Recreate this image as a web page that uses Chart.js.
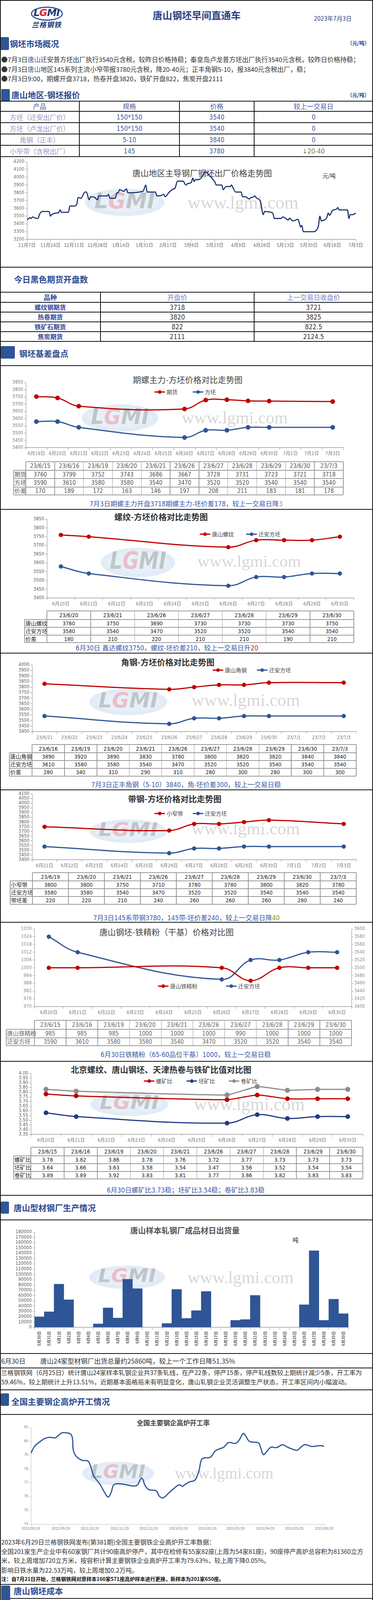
<!DOCTYPE html>
<html lang="zh-CN">
<head>
<meta charset="utf-8">
<title>唐山钢坯早间直通车</title>
<script src="https://cdn.jsdelivr.net/npm/chart.js@4.4.1/dist/chart.umd.min.js"></script>
<style>
  html, body { margin: 0; padding: 0; background: #fff; }
  #page { position: relative; width: 954px; height: 4467px; overflow: hidden;
          font-family: "Noto Sans CJK SC", "Noto Sans", sans-serif; color: #333; }
</style>
</head>
<body>
<div id="page"></div>
<script>
// ---------------- data ----------------
// 唐山地区钢坯报价
const quoteProducts = ['方坯（迁安出厂价）', '方坯（卢龙出厂价）', '角钢（正丰）', '小窄带（含税出厂）'];
const quoteSpecs = ['150*150', '150*150', '5-10', '145'];
const quotePrices = [3540, 3540, 3840, 3780];
const quoteChanges = ['0', '0', '0', '↓20-40'];

// 主导钢厂出厂价走势 (天数从2022-11-07起算)
const trendTicks = ['11月7日', '11月24日', '12月11日', '12月28日', '1月14日', '1月31日', '2月17日', '3月6日',
  '3月23日', '4月9日', '4月26日', '5月13日', '5月30日', '6月16日', '7月3日'];
const trendDay = [0, 2, 3, 4, 6, 8, 9, 11, 16, 17, 18, 21, 23, 24, 25, 30, 31, 34, 36, 37, 39, 42, 43, 45, 46, 49, 51, 52, 58, 59,
  60, 64, 65, 66, 67, 70, 72, 73, 84, 86, 87, 89, 93, 94, 97, 99, 100, 103, 106, 107, 109, 113, 115, 116, 118, 119, 120, 121, 122, 124,
  127, 129, 130, 134, 136, 137, 141, 142, 144, 147, 148, 149, 151, 155, 156, 158, 161, 162, 163, 165, 166, 168, 169, 171, 172, 175, 178, 179, 184, 185,
  187, 189, 190, 191, 192, 194, 196, 197, 198, 199, 200, 207, 210, 211, 212, 213, 216, 217, 218, 219, 221, 224, 225, 226, 232, 233, 234, 236, 238];
const trendPrice = [3450, 3480, 3470, 3490, 3475, 3470, 3520, 3560, 3560, 3500, 3520, 3540, 3545, 3580, 3550, 3550, 3630, 3630, 3650, 3740,
  3730, 3810, 3810, 3710, 3750, 3740, 3710, 3760, 3760, 3780, 3730, 3730, 3800, 3800, 3840, 3820, 3850, 3800, 3820, 3900,
  3810, 3810, 3810, 3760, 3765, 3780, 3750, 3810, 3850, 3855, 3950, 3950, 3900, 3915, 3925, 3935, 3990, 3945, 3970, 3970,
  4010, 4070, 4060, 3985, 3940, 3900, 3900, 3840, 3880, 3880, 3900, 3870, 3810, 3810, 3750, 3750, 3720, 3740, 3740, 3760,
  3735, 3715, 3690, 3520, 3560, 3555, 3535, 3470, 3470, 3490, 3475, 3450, 3475, 3460, 3440, 3445, 3460, 3420, 3360, 3380,
  3300, 3300, 3330, 3380, 3500, 3440, 3460, 3480, 3540, 3510, 3570, 3590, 3610, 3580, 3580, 3470, 3520, 3520, 3540];

// 今日黑色期货开盘
const futNames = ['螺纹钢期货', '热卷期货', '铁矿石期货', '焦炭期货'];
const futOpen = ['3718', '3820', '822', '2111'];
const futPrevClose = ['3721', '3825', '822.5', '2124.5'];

// 期螺主力-方坯
const fbAxis = ['6月19日', '6月20日', '6月21日', '6月22日', '6月23日', '6月24日', '6月25日', '6月26日', '6月27日', '6月28日', '6月29日', '6月30日', '7月1日', '7月2日', '7月3日'];
const fbDates = ['23/6/15', '23/6/16', '23/6/19', '23/6/20', '23/6/21', '23/6/26', '23/6/27', '23/6/28', '23/6/29', '23/6/30', '23/7/3'];
const fbFutures = [3760, 3799, 3752, 3743, 3686, 3667, 3728, 3731, 3723, 3721, 3718];
const fbBillet = [3590, 3610, 3580, 3580, 3540, 3470, 3520, 3520, 3540, 3540, 3540];
const fbDiff = [170, 189, 172, 163, 146, 197, 208, 211, 183, 181, 178];

// 螺纹-方坯
const rbAxis = ['6月20日', '6月21日', '6月22日', '6月23日', '6月24日', '6月25日', '6月26日', '6月27日', '6月28日', '6月29日', '6月30日'];
const rbDates = ['23/6/20', '23/6/21', '23/6/26', '23/6/27', '23/6/28', '23/6/29', '23/6/30'];
const rbRebar = [3760, 3750, 3690, 3730, 3730, 3730, 3750];
const rbBillet = [3580, 3540, 3470, 3520, 3520, 3540, 3540];
const rbDiff = [180, 210, 220, 210, 210, 190, 210];

// 角钢-方坯
const agAxis = ['23/6/21', '23/6/22', '23/6/23', '23/6/24', '23/6/25', '23/6/26', '23/6/27', '23/6/28', '23/6/29', '23/6/30', '23/7/1', '23/7/2', '23/7/3'];
const agDates = ['23/6/16', '23/6/19', '23/6/20', '23/6/21', '23/6/26', '23/6/27', '23/6/28', '23/6/29', '23/6/30', '23/7/3'];
const agAngle = [3890, 3920, 3890, 3830, 3780, 3800, 3820, 3820, 3840, 3840];
const agBillet = [3610, 3580, 3580, 3540, 3470, 3520, 3520, 3540, 3540, 3540];
const agDiff = [280, 340, 310, 290, 310, 280, 300, 280, 300, 300];

// 带钢-方坯
const stAxis = ['6月21日', '6月22日', '6月23日', '6月24日', '6月25日', '6月26日', '6月27日', '6月28日', '6月29日', '6月30日', '7月1日', '7月2日', '7月3日'];
const stDates = ['23/6/19', '23/6/20', '23/6/21', '23/6/26', '23/6/27', '23/6/28', '23/6/29', '23/6/30', '23/7/3'];
const stStrip = [3800, 3800, 3750, 3710, 3780, 3780, 3800, 3820, 3780];
const stBillet = [3580, 3580, 3540, 3470, 3520, 3520, 3540, 3540, 3540];
const stDiff = [220, 220, 210, 240, 260, 260, 260, 280, 240];

// 钢坯-铁精粉
const orAxis = ['6月20日', '6月21日', '6月22日', '6月23日', '6月24日', '6月25日', '6月26日', '6月27日', '6月28日', '6月29日', '6月30日'];
const orDates = ['23/6/15', '23/6/16', '23/6/19', '23/6/20', '23/6/21', '23/6/26', '23/6/27', '23/6/28', '23/6/29', '23/6/30'];
const orOre = [985, 985, 985, 1000, 1000, 1000, 990, 1000, 1000, 1000];
const orBillet = [3590, 3610, 3580, 3580, 3540, 3470, 3520, 3520, 3540, 3540];

// 比值
const raAxis = orAxis;
const raDates = ['23/6/15', '23/6/16', '23/6/19', '23/6/20', '23/6/21', '23/6/26', '23/6/27', '23/6/28', '23/6/29', '23/6/30'];
const raRebar = [3.78, 3.82, 3.86, 3.78, 3.76, 3.72, 3.77, 3.73, 3.73, 3.73];
const raBillet = [3.64, 3.66, 3.63, 3.58, 3.54, 3.47, 3.56, 3.52, 3.54, 3.54];
const raCoil = [3.89, 3.89, 3.92, 3.83, 3.81, 3.77, 3.86, 3.82, 3.83, 3.83];

// 成品材日出货量
const shipDays = ['5月30日', '5月31日', '6月1日', '6月2日', '6月3日', '6月4日', '6月5日', '6月6日', '6月7日', '6月8日', '6月9日',
  '6月10日', '6月11日', '6月12日', '6月13日', '6月14日', '6月15日', '6月16日', '6月17日', '6月18日', '6月19日', '6月20日',
  '6月21日', '6月22日', '6月23日', '6月24日', '6月25日', '6月26日', '6月27日', '6月28日', '6月29日', '6月30日'];
const shipTon = [20000, 29500, 81700, 52200, null, null, 6600, 36900, 17700, 90800, 73100, null, null, 7400, 71600, 17000,
  31700, 67900, null, null, 13300, 14800, 60500, null, null, null, null, 42800, 144800, 13300, 53150, 25860];

// 高炉开工率 (天数从2022-08-29起算)
const bfTickLabels = ['2022/08/29', '2022/09/29', '2022/10/29', '2022/11/29', '2022/12/29', '2023/01/29', '2023/02/28', '2023/03/29', '2023/04/29', '2023/05/29', '2023/06/29'];
const bfTickDay = [0, 31, 61, 92, 122, 153, 183, 212, 243, 273, 304];
const bfDay = [0, 4, 9, 14, 19, 25, 28, 32, 37, 41, 43, 44, 47, 53, 59, 62, 65, 72, 76, 80, 83, 86, 91, 99, 104, 110, 114, 116, 118, 122,
  130, 133, 137, 143, 149, 154, 157, 160, 165, 170, 174, 177, 180, 186, 191, 195, 200, 205, 212, 216, 220, 222, 226, 229, 236, 238, 241, 244, 249, 254,
  258, 261, 266, 271, 276, 280, 284, 291, 300, 304];
const bfRate = [79.13, 79.65, 79.94, 80.18, 80.28, 80.24, 80.38, 80.60, 80.60, 80.53, 80.24, 79.35, 78.91, 78.62, 78.57, 78.18, 77.51, 76.85, 76.34, 75.97,
  76.26, 76.85, 76.93, 76.85, 76.78, 76.81, 77.29, 77.26, 76.85, 76.51, 76.41, 76.04, 75.90, 76.26, 76.63, 76.85, 76.74, 76.88, 77.07, 77.18,
  77.81, 78.69, 78.79, 78.84, 79.28, 79.43, 79.57, 79.90, 79.84, 80.09, 80.56, 80.46, 80.01, 79.94, 79.87, 79.57, 79.03, 79.21, 79.57, 79.53,
  79.65, 79.75, 79.57, 79.43, 79.35, 79.57, 79.75, 79.62, 79.68, 79.63];

// 钢坯出厂价与成本 (天数从3月15日起算)
const costTicks = ['3月15日', '3月22日', '3月29日', '4月5日', '4月12日', '4月19日', '4月26日', '5月3日', '5月10日', '5月17日', '5月24日', '5月31日', '6月7日', '6月14日', '6月21日', '6月28日'];
const billetDay = [0, 1, 2, 3, 4, 5, 6, 7, 8, 9, 10, 11, 13, 15, 16, 17, 18, 20, 22, 23, 24, 26, 28, 29, 30, 33, 34, 35, 37, 38,
  39, 40, 41, 42, 43, 44, 45, 48, 52, 54, 55, 56, 57, 58, 61, 62, 64, 65, 66, 68, 69, 70, 72, 77, 78, 79, 81, 82, 83, 84,
  85, 86, 88, 89, 90, 91, 93, 95, 96, 97, 98, 100, 102, 103, 104, 105];
const billetPrice = [4070, 4020, 4000, 3985, 3965, 3945, 3940, 3905, 3900, 3850, 3840, 3850, 3880, 3877, 3900, 3880, 3855, 3800, 3797, 3800,
  3780, 3750, 3750, 3720, 3740, 3740, 3760, 3740, 3680, 3595, 3540, 3530, 3560, 3560, 3530, 3490, 3485, 3475, 3470, 3470,
  3490, 3452, 3470, 3460, 3440, 3440, 3460, 3420, 3395, 3360, 3380, 3300, 3298, 3298, 3330, 3400, 3460, 3500, 3470, 3440,
  3480, 3540, 3530, 3510, 3540, 3565, 3610, 3600, 3585, 3580, 3540, 3505, 3478, 3470, 3520, 3530];
const costDay = [0, 6, 7, 13, 14, 27, 28, 34, 35, 41, 42, 44, 50, 55, 56, 62, 63, 65, 68, 76, 77, 83, 84, 90, 91, 97, 98, 104, 105];
const costAvg = [3980, 3980, 3953, 3953, 3918, 3918, 3868, 3868, 3815, 3815, 3767, 3767, 3620, 3620, 3540, 3540, 3522, 3522, 3441, 3441,
  3411, 3411, 3381, 3381, 3375, 3375, 3439, 3439, 3416];

// ---------------- helpers ----------------
const page = document.getElementById('page');
const NAVY = '#2b4a8e', BLOCK = '#2f5597', RED = '#c00000', BLUE = '#2f5597';
const NUMF = '"Liberation Sans Narrow","DejaVu Sans Condensed","Noto Sans CJK SC",sans-serif';

function box(css, html) {
  const d = document.createElement('div');
  d.style.cssText = 'position:absolute;' + css;
  if (html != null) d.innerHTML = html;
  page.appendChild(d);
  return d;
}
function txt(x, y, s, css, al) {
  const tx = al === 'c' ? '-50%' : al === 'r' ? '-100%' : '0';
  return box(`left:${x}px;top:${y}px;transform:translate(${tx},-50%);white-space:nowrap;line-height:1.2;${css || ''}`, s);
}
function hr(y, x0 = 0, x1 = 954, c = '#111', w = 2) {
  box(`left:${x0}px;top:${y - w / 2}px;width:${x1 - x0}px;height:${w}px;background:${c}`);
}
function vr(x, y0, y1, c = '#111', w = 1) {
  box(`left:${x - w / 2}px;top:${y0}px;width:${w}px;height:${y1 - y0}px;background:${c}`);
}
function section(bx, by, title, tx, ty) {
  box(`left:${bx[0]}px;top:${by[0]}px;width:${bx[1] - bx[0]}px;height:${by[1] - by[0]}px;background:${BLOCK};border-radius:3px`);
  txt(tx, ty, title, `font-size:21px;font-weight:bold;color:${NAVY}`);
}
function grid(xs, ys, cells, o) {
  const col = o.line || '#111', lw = o.lw || 1;
  ys.forEach((y, i) => hr(y, (i === 0 && o.corner) ? xs[1] : xs[0], xs[xs.length - 1], col, lw));
  xs.forEach((x, j) => vr(x, (j === 0 && o.corner) ? ys[1] : ys[0], ys[ys.length - 1], col, lw));
  cells.forEach((row, r) => row.forEach((s, c) => {
    if (s == null || s === '') return;
    const st = typeof o.style === 'function' ? o.style(r, c) : o.style;
    const left = o.labelLeft && c === 0;
    txt(left ? xs[0] + 2 : (xs[c] + xs[c + 1]) / 2, (ys[r] + ys[r + 1]) / 2, String(s), st, left ? 'l' : 'c');
  }));
}
function colsX(x0, xl, x1, n) {
  const xs = [x0, xl];
  for (let i = 1; i <= n; i++) xs.push(xl + (x1 - xl) * i / n);
  return xs;
}
function chartTable(x0, xl, x1, ys, dates, rows, style) {
  const cells = [[''].concat(dates)].concat(rows.map(r => [r[0]].concat(r[1])));
  grid(colsX(x0, xl, x1, dates.length), ys, cells, { corner: true, labelLeft: true, line: '#9a9a9a', lw: 1.5, style });
}
function legendItem(x, y, color, label, o = {}) {
  const w = o.w || 27;
  box(`left:${x}px;top:${y - 1.5}px;width:${w}px;height:3px;background:${color}`);
  if (!o.noDot) box(`left:${x + w / 2 - 4.5}px;top:${y - 4.5}px;width:9px;height:9px;border-radius:50%;background:${color}`);
  txt(x + w + (o.gap || 4), y, label, `font-size:${o.size || 14}px;color:${o.tc || '#444'}`);
}
const key = s => { const m = s.match(/(\d+)[\/月](\d+)日?$/); return m ? m[1] + '/' + m[2] : s; };
function pick(axis, dates, vals) {
  const m = {};
  dates.forEach((d, i) => { m[key(d)] = vals[i]; });
  return axis.map(a => (key(a) in m) ? m[key(a)] : null);
}

// 水印
const wmPlugin = {
  id: 'wm',
  beforeDatasetsDraw(chart, args, o) {
    if (!o || !o.logo) return;
    const ctx = chart.ctx, top = o.top;
    const [cx, cyP, w, h] = o.logo, cy = cyP - top;
    ctx.save();
    ctx.fillStyle = 'rgba(190,212,236,0.45)';
    ctx.beginPath(); ctx.ellipse(cx, cy, w / 2, h / 2, 0, 0, Math.PI * 2); ctx.fill();
    ctx.fillStyle = 'rgba(236,243,250,0.5)';
    ctx.beginPath(); ctx.ellipse(cx, cy, w * 0.42, h * 0.36, 0, 0, Math.PI * 2); ctx.fill();
    const letters = ['L', 'G', 'M', 'I'];
    const cols = ['rgba(160,160,160,.55)', 'rgba(238,140,152,.5)', 'rgba(160,160,160,.55)', 'rgba(160,160,160,.55)'];
    ctx.font = `italic bold ${Math.round(h * 0.8)}px "DejaVu Sans"`;
    ctx.textBaseline = 'middle';
    const tw = letters.reduce((a, l) => a + ctx.measureText(l).width, 0);
    ctx.translate(cx - w * 0.38, cy);
    ctx.scale((w * 0.76) / tw, 1);
    let x = 0;
    letters.forEach((l, i) => { ctx.fillStyle = cols[i]; ctx.fillText(l, x, 0); x += ctx.measureText(l).width; });
    ctx.restore();
    if (o.text) {
      const [x0, x1, tyP] = o.text;
      ctx.save();
      ctx.font = '100px "Liberation Serif"';
      const m = ctx.measureText('www.lgmi.com').width;
      ctx.font = `${Math.round(100 * (x1 - x0) / m)}px "Liberation Serif"`;
      ctx.fillStyle = 'rgba(165,165,165,0.45)';
      ctx.textBaseline = 'middle';
      ctx.fillText('www.lgmi.com', x0, tyP - top);
      ctx.restore();
    }
  }
};

function yAx(min, max, step, o = {}) {
  return {
    position: o.position || 'left', min, max,
    ticks: { stepSize: step, autoSkip: false, color: o.color || '#777', font: { size: o.size || 12, family: NUMF }, padding: 3,
      callback: o.fmt || (v => v) },
    grid: { drawOnChartArea: false, tickLength: 4, color: o.line || '#8c8c8c' },
    border: { color: o.line || '#8c8c8c', width: 1 }
  };
}
function xCat(o = {}) {
  return {
    offset: true,
    grid: { offset: true, drawOnChartArea: false, tickLength: o.tl || 6, color: o.line || '#9a9a9a' },
    border: { color: o.line || '#9a9a9a', width: o.bw || 1.5 },
    ticks: { autoSkip: false, maxRotation: o.rot || 0, minRotation: o.rot || 0, color: o.color || '#777',
      font: { size: o.size || 12, weight: o.weight || 'normal', family: o.family || NUMF }, padding: o.pad ?? 3 }
  };
}
function ds(label, data, color, o = {}) {
  return { label, data, borderColor: color, backgroundColor: color, borderWidth: o.bw || 3,
    pointRadius: o.pr ?? 4, pointHoverRadius: 0, pointBackgroundColor: color, pointBorderColor: color,
    tension: o.tension ?? 0.4, spanGaps: true, yAxisID: o.axis || 'y', cubicInterpolationMode: o.mono ? 'monotone' : 'default' };
}
function mkChart(o) {
  const [L, T, R, B] = o.rect, padT = 12, h = B - T + padT + o.xh;
  const c = document.createElement('canvas');
  c.width = 954; c.height = h;
  c.style.cssText = `position:absolute;left:0;top:${T - padT}px;width:954px;height:${h}px`;
  page.appendChild(c);
  o.x.afterFit = s => { s.height = o.xh; };
  o.y.afterFit = s => { s.width = o.yw; };
  const scales = { x: o.x, y: o.y };
  if (o.y1) { o.y1.afterFit = s => { s.width = o.y1w; }; scales.y1 = o.y1; }
  try {
    return new Chart(c, {
      type: o.type || 'line',
      data: { labels: o.labels, datasets: o.datasets },
      options: {
        responsive: false, animation: false, events: [],
        layout: { padding: { left: L - o.yw, right: 954 - R - (o.y1 ? o.y1w : 0), top: padT, bottom: 0 } },
        scales,
        plugins: { legend: { display: false }, tooltip: { enabled: false },
          wm: o.wm ? Object.assign({ top: T - padT }, o.wm) : false }
      },
      plugins: [wmPlugin]
    });
  } catch (e) { console.error(e); }
}
Chart.defaults.font.family = '"Noto Sans CJK SC", sans-serif';

// ---------------- header ----------------
box('left:79px;top:17px;width:76px;height:30px;border:3px solid ' + BLOCK + ';border-radius:50%');
txt(119, 33, '<span style="color:#1f3a7a">L</span><span style="color:#d9232d">G</span><span style="color:#1f3a7a">MI</span>',
  'font-size:25px;font-weight:bold;font-style:italic;font-family:"DejaVu Sans";letter-spacing:-1px', 'c');
txt(119, 63, '兰格钢铁', 'font-size:18px;font-weight:bold;font-style:italic;color:#1f3a7a;letter-spacing:1px', 'c');
txt(503, 38, '唐山钢坯早间直通车', 'font-size:25px;font-weight:bold;color:#2a3f80', 'c');
txt(803, 48, '2023年7月3日', 'font-size:15px;color:#2a3f80;font-family:' + NUMF);

// ---------------- 钢坯市场概况 ----------------
section([0, 23], [95, 128], '钢坯市场概况', 25, 112);
txt(945, 110, '（元/吨）', 'font-size:13px;font-weight:bold;color:' + NAVY, 'r');
const bulletCss = 'font-size:16.5px;color:#333';
txt(3, 153, '●7月3日<span style="color:#3a5aa0">唐山</span>迁安普方坯出厂执行3540元含税，较昨日价格持稳；秦皇岛卢龙普方坯出厂执行3540元含税，较昨日价格持稳；', bulletCss);
txt(3, 178, '●7月3日<span style="color:#3a5aa0">唐山</span>地区145系列主流小窄带报3780元含税，降20-40元；正丰角钢5-10，报3840元含税出厂，稳；', bulletCss);
txt(3, 202, '●7月3日9:00，期螺开盘3718，热卷开盘3820，铁矿开盘822，焦炭开盘2111', bulletCss);

// ---------------- 唐山地区-钢坯报价 ----------------
section([3, 25], [228, 259], '唐山地区-钢坯报价', 29, 243);
txt(945, 243, '（元/吨）', 'font-size:13px;font-weight:bold;color:' + NAVY, 'r');
grid([0, 203, 459, 650, 954], [259, 285, 314, 343, 372, 401],
  [['产品', '规格', '价格', '较上一交易日']].concat(quoteProducts.map((p, i) => [p, quoteSpecs[i], quotePrices[i], quoteChanges[i]])),
  { lw: 1.5, style: (r, c) => {
      if (r === 0) return 'font-size:17px;color:#4a5c9c';
      if (c === 0) return 'font-size:17px;color:#9a94c6';
      if (c === 3 && r === 4) return 'font-size:17px;color:#6f8050;font-family:' + NUMF;
      return 'font-size:17px;color:#3e5c9e;font-family:' + NUMF;
    } });

// 出厂价走势图
txt(517, 443, '唐山地区主导钢厂钢坯出厂价格走势图', 'font-size:21px;color:#444', 'c');
txt(825, 449, '元/吨', 'font-size:14px;color:#222');
mkChart({
  rect: [69, 414, 910, 613], yw: 50, xh: 30,
  x: { type: 'linear', min: 0, max: 238,
       grid: { drawOnChartArea: false, tickLength: 6, color: '#999' }, border: { color: '#999', width: 1.5 },
       ticks: { stepSize: 17, autoSkip: false, maxRotation: 0, color: '#666', font: { size: 12, family: NUMF }, padding: 3,
                callback: v => trendTicks[Math.round(v / 17)] } },
  y: yAx(3200, 4200, 100, { color: '#666' }),
  datasets: [Object.assign(ds('出厂价', trendDay.map((d, i) => ({ x: d, y: trendPrice[i] })), '#1c3170', { pr: 0, bw: 2.8, mono: true }))],
  wm: { logo: [319, 518, 204, 70], text: [480, 763, 522] }
});
hr(684);

// ---------------- 今日黑色期货开盘数 ----------------
txt(36, 715, '今日黑色期货开盘数', 'font-size:21px;font-weight:bold;color:' + NAVY);
grid([0, 257, 650, 954], [748, 774, 799, 824, 849, 874],
  [['品种', '开盘价', '上一交易日收盘价']].concat(futNames.map((n, i) => [n, futOpen[i], futPrevClose[i]])),
  { lw: 1.5, style: (r, c) => {
      if (r === 0) return c === 0 ? 'font-size:17px;font-weight:bold;color:#2c4a8c' : 'font-size:17px;color:#6f80c8';
      if (c === 0) return 'font-size:16px;font-weight:bold;color:#33489a';
      return 'font-size:17px;color:#333;font-family:' + NUMF;
    } });

// ---------------- 钢坯基差盘点 ----------------
section([2, 38], [886, 918], '钢坯基差盘点', 49, 905);
hr(936);

const capCss = 'font-size:17px;color:#3a5aa8;font-family:' + NUMF;
const tblGray = (r, c) => `font-size:15px;color:#555;font-family:${NUMF}`;
const tblDark = (r, c) => `font-size:14px;color:#222;font-family:${NUMF}`;

// 期螺主力-方坯
txt(480, 972, '期螺主力-方坯价格对比走势图', 'font-size:21px;color:#444', 'c');
legendItem(395, 1003, RED, '期货');
legendItem(493, 1003, BLUE, '方坯');
mkChart({
  rect: [66, 979, 878, 1146], yw: 40, xh: 30, labels: fbAxis,
  x: xCat(), y: yAx(3400, 3850, 50),
  datasets: [ds('期货', pick(fbAxis, fbDates, fbFutures), RED, { pr: 4.5 }), ds('方坯', pick(fbAxis, fbDates, fbBillet), BLUE, { pr: 4.5 })],
  wm: { logo: [307, 1070, 196, 70], text: [465, 736, 1072] }
});
chartTable(35, 66, 878, [1182, 1204, 1225, 1247, 1267], fbDates,
  [['期货', fbFutures], ['方坯', fbBillet], ['价差', fbDiff]], tblGray);
txt(476, 1290, '7月3日期螺主力开盘3718期螺主力-坯价差178，较上一交易日降<span style="color:#b29a1e">3</span>', capCss, 'c');
hr(1304);

// 螺纹-方坯
txt(412, 1323, '螺纹-方坯价格对比走势图', 'font-size:21px;font-weight:bold;color:#333', 'c');
legendItem(511, 1367, RED, '唐山螺纹');
legendItem(630, 1367, BLUE, '迁安方坯');
mkChart({
  rect: [120, 1329, 905, 1531], yw: 40, xh: 30, labels: rbAxis,
  x: xCat(), y: yAx(3400, 3850, 50, { color: '#555' }),
  datasets: [ds('唐山螺纹', pick(rbAxis, rbDates, rbRebar), RED), ds('迁安方坯', pick(rbAxis, rbDates, rbBillet), BLUE)],
  wm: { logo: [353, 1440, 190, 75], text: [505, 768, 1440] }
});
chartTable(63, 120, 905, [1564, 1586, 1606, 1626, 1645], rbDates,
  [['唐山螺纹', rbRebar], ['迁安方坯', rbBillet], ['价差', rbDiff]], tblDark);
txt(427, 1659, '6月30日 鑫达螺纹3750，螺纹-坯价差210，较上一交易日升<span style="color:#e01010">20</span>', capCss, 'c');
hr(1672);

// 角钢-方坯
txt(429, 1695, '角钢-方坯价格对比走势图', 'font-size:21px;font-weight:bold;color:#333', 'c');
legendItem(544, 1715, RED, '唐山角钢');
legendItem(657, 1715, BLUE, '迁安方坯');
mkChart({
  rect: [82, 1702, 911, 1873], yw: 40, xh: 30, labels: agAxis,
  x: xCat(), y: yAx(3400, 4000, 50, { color: '#555' }),
  datasets: [ds('唐山角钢', pick(agAxis, agDates, agAngle), RED), ds('迁安方坯', pick(agAxis, agDates, agBillet), BLUE)],
  wm: { logo: [328, 1797, 200, 68], text: [490, 766, 1795] }
});
chartTable(24, 82, 911, [1906, 1927, 1947, 1967, 1987], agDates,
  [['唐山角钢', agAngle], ['迁安方坯', agBillet], ['价差', agDiff]], tblDark);
txt(476, 2009, '7月3日正丰角钢（5-10）3840，角-坯价差300，较上一交易日稳', capCss, 'c');
hr(2022);

// 带钢-方坯
txt(447, 2045, '带钢-方坯价格对比走势图', 'font-size:21px;font-weight:bold;color:#333', 'c');
legendItem(395, 2082, RED, '小窄带');
legendItem(493, 2082, BLUE, '迁安方坯');
mkChart({
  rect: [82, 2032, 911, 2201], yw: 40, xh: 30, labels: stAxis,
  x: xCat(), y: yAx(3400, 4100, 50, { color: '#555' }),
  datasets: [ds('小窄带', pick(stAxis, stDates, stStrip), RED), ds('迁安方坯', pick(stAxis, stDates, stBillet), BLUE)],
  wm: { logo: [328, 2128, 200, 60], text: [490, 766, 2124] }
});
chartTable(26, 83, 911, [2234, 2255, 2275, 2295, 2315], stDates,
  [['小窄带', stStrip], ['迁安方坯', stBillet], ['带坯差', stDiff]], tblDark);
txt(477, 2350, '7月3日145系带钢3780，145带-坯价差240，较上一交易日降<span style="color:#6e9a2a">40</span>', capCss, 'c');
hr(2361);

// 钢坯-铁精粉
txt(426, 2386, '唐山钢坯-铁精粉（干基）价格对比图', 'font-size:21px;color:#444', 'c');
mkChart({
  rect: [88, 2378, 899, 2577], yw: 40, y1w: 45, xh: 30, labels: orAxis,
  x: xCat(), y: yAx(970, 1030, 6, { color: '#888' }),
  y1: yAx(3400, 3600, 20, { position: 'right', color: '#888' }),
  datasets: [ds('唐山铁精粉', pick(orAxis, orDates, orOre), RED), ds('迁安方坯', pick(orAxis, orDates, orBillet), BLUE, { axis: 'y1' })]
});
legendItem(404, 2524, RED, '唐山铁精粉');
legendItem(578, 2524, BLUE, '迁安方坯');
chartTable(16, 88, 899, [2612, 2635, 2657, 2677], orDates,
  [['唐山铁精粉', orOre], ['迁安方坯', orBillet]], (r, c) => `font-size:15px;color:#666;font-family:${NUMF}`);
txt(475, 2700, '6月30日铁精粉（65-60品位干基）1000，较上一交易日稳', capCss, 'c');
hr(2717);

// 比值
txt(412, 2738, '北京螺纹、唐山钢坯、天津热卷与铁矿比值对比图', 'font-size:21px;font-weight:bold;color:#333', 'c');
legendItem(368, 2767, RED, '螺矿比');
legendItem(477, 2767, '#1f3c88', '坯矿比');
legendItem(585, 2767, '#8c8c8c', '卷矿比');
mkChart({
  rect: [79, 2748, 928, 2904], yw: 40, xh: 30, labels: raAxis,
  x: xCat(), y: yAx(3.35, 4.0, 0.05, { color: '#555', fmt: v => Number(v).toFixed(2) }),
  datasets: [ds('螺矿比', pick(raAxis, raDates, raRebar), RED, { pr: 4.5, tension: 0.2 }),
             ds('坯矿比', pick(raAxis, raDates, raBillet), '#1f3c88', { pr: 4.5 }),
             ds('卷矿比', pick(raAxis, raDates, raCoil), '#8c8c8c', { pr: 5, tension: 0.1 })],
  wm: { logo: [331, 2827, 200, 60], text: [496, 779, 2830] }
});
chartTable(35, 79, 928, [2937, 2959, 2979, 2999, 3018], raDates,
  [['螺矿比', raRebar.map(v => v.toFixed(2))], ['坯矿比', raBillet.map(v => v.toFixed(2))], ['卷矿比', raCoil.map(v => v.toFixed(2))]], tblDark);
txt(475, 3047, '6月30日螺矿比3.73稳；坯矿比3.54稳；卷矿比3.83稳', capCss, 'c');
hr(3060);

// ---------------- 唐山型材钢厂生产情况 ----------------
section([2, 23], [3076, 3107], '唐山型材钢厂生产情况', 35, 3092);
hr(3123);
txt(473, 3150, '唐山样本轧钢厂成品材日出货量', 'font-size:20px;font-weight:bold;color:#555', 'c');
txt(756, 3174, '吨', 'font-size:15px;color:#222', 'c');
mkChart({
  type: 'bar', rect: [88, 3154, 891, 3398], yw: 56, xh: 60, labels: shipDays,
  x: xCat({ rot: 90, size: 10, weight: 'bold', color: '#555', pad: 4, family: '"Noto Sans CJK SC",sans-serif' }),
  y: yAx(0, 180000, 10000, { color: '#555', size: 12 }),
  datasets: [{ label: '出货量', data: shipTon, backgroundColor: BLUE, borderWidth: 0, barPercentage: 1, categoryPercentage: 1 }],
  wm: { logo: [325, 3270, 195, 60], text: [480, 751, 3273] }
});
hr(3465);
txt(3, 3484, '6月30日', 'font-size:17px;color:#333');
txt(103, 3484, '唐山24家型材钢厂出货总量约25860吨，较上一个工作日降51.35%', 'font-size:17px;color:#333');
hr(3502);
txt(3, 3514, '兰格钢铁网（6月25日）统计唐山24家样本轧钢企业共37条轧线，在产22条，停产15条，停产轧线数较上期统计减少5条，开工率为', 'font-size:16px;color:#333');
txt(3, 3538, '59.46%，较上期统计上升13.51%，近期基本面格局未有明显变化，唐山轧钢企业灵活调整生产状态，开工率区间内小幅波动。', 'font-size:16px;color:#333');
hr(3558);

// ---------------- 全国主要钢企高炉开工情况 ----------------
section([2, 23], [3567, 3599], '全国主要钢企高炉开工情况', 29, 3588);
hr(3621);
txt(443, 3642, '全国主要钢企高炉开工率', 'font-size:17px;font-weight:bold;color:#444', 'c');
mkChart({
  rect: [79, 3654, 829, 3902], yw: 22, xh: 20,
  x: { type: 'linear', min: 0, max: 304,
       afterBuildTicks: a => { a.ticks = bfTickDay.map(v => ({ value: v })); },
       grid: { drawOnChartArea: false, tickLength: 4, color: '#bbb' }, border: { color: '#bbb' },
       ticks: { autoSkip: false, maxRotation: 0, color: '#777', font: { size: 9 }, padding: 1,
                callback: (v, i) => bfTickLabels[i] } },
  y: yAx(74, 81, 1, { color: '#777', size: 9, line: '#bbb' }),
  datasets: [ds('高炉开工率', bfDay.map((d, i) => ({ x: d, y: bfRate[i] })), BLUE, { pr: 0, bw: 3 })],
  wm: { logo: [302, 3772, 184, 60], text: [447, 698, 3774] }
});
const bfCss = 'font-size:16px;color:#333';
txt(3, 3948, '2023年6月29日兰格钢铁网发布(第381期)全国主要钢铁企业高炉开工率数据：', bfCss);
txt(3, 3972, '全国201家生产企业中有60家钢厂共计90座高炉停产，其中在检修有55家82座(上周为54家81座)，90座停产高炉总容积为81360立方', bfCss);
txt(3, 3995, '米，较上周增加720立方米，按容积计算主要钢铁企业高炉开工率为79.63%，较上周下降0.05%。', bfCss);
txt(3, 4020, '影响日铁水量为22.53万吨，较上周增加0.2万吨。', bfCss);
txt(3, 4042, '注：自7月21日开始，兰格钢铁网对原样本160家571座高炉样本进行更换，新样本为201家650座。', 'font-size:13px;font-weight:bold;color:#111');
hr(4056);

// ---------------- 唐山钢坯成本 ----------------
section([3, 26], [4059, 4099], '唐山钢坯成本', 35, 4073);
hr(4092, 26);
txt(485, 4109, '钢坯出厂价与钢坯生产成本均价走势对比图', 'font-size:17px;font-weight:bold;color:#444', 'c');
legendItem(353, 4146, RED, '迁安方坯', { noDot: true, w: 26, size: 10, tc: '#999' });
legendItem(474, 4146, BLUE, '钢坯成本均值（月度累计）', { noDot: true, w: 26, size: 10, tc: '#999' });
mkChart({
  rect: [119, 4131, 839, 4396], yw: 30, xh: 22,
  x: { type: 'linear', min: 0, max: 105.6,
       afterBuildTicks: a => { a.ticks = costTicks.map((_, i) => ({ value: i * 7 })); },
       grid: { drawOnChartArea: false, tickLength: 4, color: '#bbb' }, border: { color: '#bbb' },
       ticks: { autoSkip: false, maxRotation: 0, color: '#999', font: { size: 10 }, padding: 1,
                callback: (v, i) => costTicks[i] } },
  y: yAx(3200, 4100, 100, { color: '#999', size: 10, line: '#bbb' }),
  datasets: [ds('迁安方坯', billetDay.map((d, i) => ({ x: d, y: billetPrice[i] })), RED, { pr: 0, bw: 2.5, mono: true }),
             ds('钢坯成本均值（月度累计）', costDay.map((d, i) => ({ x: d, y: costAvg[i] })), BLUE, { pr: 0, bw: 2.5, mono: true })],
  wm: { logo: [333, 4280, 176, 141], text: [471, 712, 4280] }
});
txt(3, 4444, '本周（6月28日）唐山地区样本长流程钢厂，钢坯含税累计成本（调研值，不含三费）均值为3416元，周环比降23元', 'font-size:16px;color:#333');

// 外框
box('left:0;top:0;width:954px;height:4467px;box-sizing:border-box;border:2px solid #111;pointer-events:none');
</script>
</body>
</html>
